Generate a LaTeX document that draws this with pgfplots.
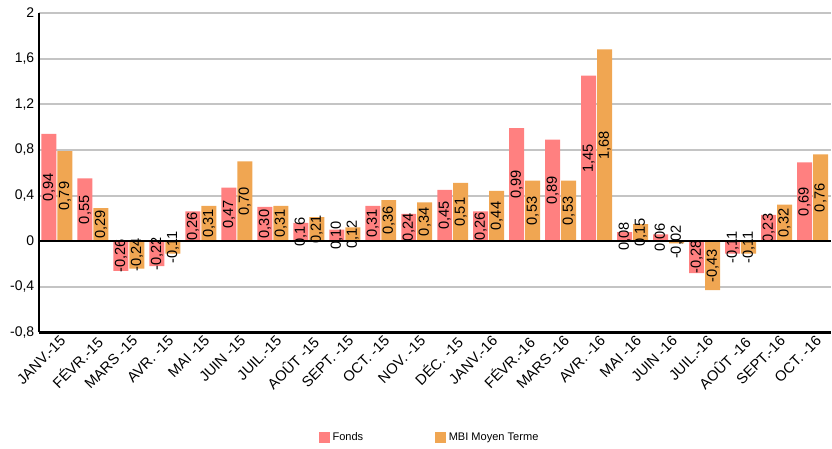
\documentclass[border=0pt]{standalone}
\usepackage{pgfplots}
\pgfplotsset{compat=1.18}
\usepackage{fontspec}
\setmainfont{Liberation Sans}
\definecolor{fonds}{RGB}{255,128,128}
\definecolor{mbi}{RGB}{240,166,82}
\definecolor{gridgray}{RGB}{196,196,196}
\begin{document}
\begin{tikzpicture}
\begin{axis}[name=ax, scale only axis, width=594.75pt, height=240pt,
  ybar=0.75pt, bar width=11.25pt,
  xmin=-0.5, xmax=21.5, ymin=-0.8, ymax=2,
  xtick={0,...,21},
  xticklabels={JANV.-15, FÉVR.-15, MARS -15, AVR. -15, MAI -15, JUIN -15, JUIL.-15, AOÛT -15, SEPT. -15, OCT. -15, NOV. -15, DÉC. -15, JANV.-16, FÉVR.-16, MARS -16, AVR. -16, MAI -16, JUIN -16, JUIL.-16, AOÛT -16, SEPT.-16, OCT. -16},
  ytick={-0.8,-0.4,0,0.4,0.8,1.2,1.6,2},
  axis x line*=bottom, axis y line*=left,
  x axis line style={line width=2.2pt, -},
  y axis line style={line width=1.5pt, -},
  major tick length=0pt,
  ymajorgrids, grid style={gridgray, line width=1.5pt},
  /pgf/number format/assume math mode=true,
  yticklabel style={font=\fontsize{10.5}{12}\selectfont, /pgf/number format/fixed, /pgf/number format/precision=1, /pgf/number format/use comma},
  xticklabel style={font=\fontsize{11}{13}\selectfont, rotate=45, anchor=north east, xshift=3.5pt, yshift=1pt},
  nodes near coords,
  point meta=rawy,
  visualization depends on=rawy \as \rawy,
  nodes near coords style={font=\fontsize{11}{12}\selectfont, black,
     /pgf/number format/fixed, /pgf/number format/fixed zerofill, /pgf/number format/precision=2, /pgf/number format/use comma},
  every node near coord/.append style={shift={(axis direction cs:0,{-0.5*(\rawy)})}, rotate=90, anchor=center, inner sep=0pt},
  legend style={at={(0.494,-0.33)}, anchor=center, draw=none, legend columns=2,
     font=\fontsize{8.3}{10}\selectfont,
     /tikz/every even column/.append style={column sep=52pt}},
  clip=false,
]
\addplot[fill=fonds, draw=none, legend image code/.code={\fill[fonds] (0,-0.13cm) rectangle (0.29cm,0.16cm);}] coordinates {
(0,0.94) (1,0.55) (2,-0.26) (3,-0.22) (4,0.26) (5,0.47) (6,0.30) (7,0.16) (8,0.10) (9,0.31) (10,0.24)
(11,0.45) (12,0.26) (13,0.99) (14,0.89) (15,1.45) (16,0.08) (17,0.06) (18,-0.28) (19,-0.11) (20,0.23) (21,0.69)};
\addlegendentry{Fonds}
\addplot[fill=mbi, draw=none, legend image code/.code={\fill[mbi] (0,-0.13cm) rectangle (0.29cm,0.16cm);}] coordinates {
(0,0.79) (1,0.29) (2,-0.24) (3,-0.11) (4,0.31) (5,0.70) (6,0.31) (7,0.21) (8,0.12) (9,0.36) (10,0.34)
(11,0.51) (12,0.44) (13,0.53) (14,0.53) (15,1.68) (16,0.15) (17,-0.02) (18,-0.43) (19,-0.11) (20,0.32) (21,0.76)};
\addlegendentry{MBI Moyen Terme}
\draw[black, line width=1.3pt] (axis cs:-0.5,0) -- (axis cs:21.5,0);
\end{axis}
\path[use as bounding box] ([xshift=-29.25pt, yshift=-86.25pt]ax.south west) rectangle ([yshift=9.75pt]ax.north east);
\end{tikzpicture}
\end{document}
